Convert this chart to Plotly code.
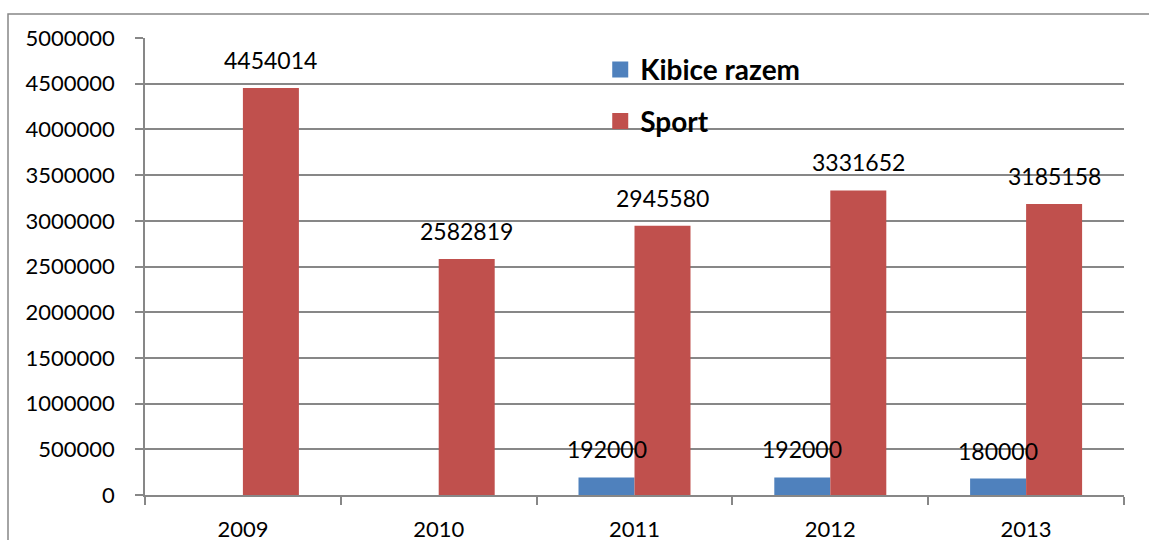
import plotly.graph_objects as go

years = ["2009", "2010", "2011", "2012", "2013"]
kibice = [None, None, 192000, 192000, 180000]
sport = [4454014, 2582819, 2945580, 3331652, 3185158]
y_ticks = list(range(0, 5000001, 500000))

BLUE = "#4F81BD"
RED = "#C0504D"
GRID = "#878787"
FONT = "Lato"
FS = 22

W, H = 1149, 540
ML, MR, MT, MB = 145, 25, 38, 45
plot_w = W - ML - MR
plot_h = H - MT - MB
bargap = 0.428
bar_px = plot_w / len(years) * (1 - bargap) / 2

fig = go.Figure()
fig.add_trace(go.Bar(x=years, y=kibice, name="Kibice razem", marker_color=BLUE,
                     marker_line_width=0, showlegend=False))
fig.add_trace(go.Bar(x=years, y=sport, name="Sport", marker_color=RED,
                     marker_line_width=0, showlegend=False))
# legend entries
fig.add_trace(go.Scatter(x=[years[0]], y=[None], mode="markers", name="Kibice razem",
                         marker=dict(symbol="square", size=16, color=BLUE, line_width=0),
                         legendgroup="a", hoverinfo="skip"))
fig.add_trace(go.Scatter(x=[years[0]], y=[None], mode="markers", name="Sport",
                         marker=dict(symbol="square", size=16, color=RED, line_width=0),
                         legendgroup="b", hoverinfo="skip"))

anns = []
for series, shift in ((kibice, -bar_px / 2), (sport, bar_px / 2)):
    for i, v in enumerate(series):
        if v is None:
            continue
        anns.append(dict(x=i, y=v, xref="x", yref="y", text=str(v), showarrow=False,
                         xshift=shift, yshift=28, yanchor="middle", xanchor="center",
                         font=dict(family=FONT, size=23, color="black")))

fig.update_layout(
    width=W, height=H,
    margin=dict(l=ML, r=MR, t=MT, b=MB, autoexpand=False),
    paper_bgcolor="white", plot_bgcolor="white",
    barmode="group", bargap=bargap, bargroupgap=0,
    font=dict(family=FONT, size=FS, color="black"),
    annotations=anns,
    legend=dict(x=0.465, y=0.985, xanchor="left", yanchor="top",
                font=dict(family=FONT, size=28, color="black", weight="bold"),
                tracegroupgap=12, bgcolor="rgba(0,0,0,0)", itemsizing="trace"),
    shapes=[dict(type="rect", xref="paper", yref="paper",
                 x0=(8 - ML) / plot_w, x1=(W + 20 - ML) / plot_w,
                 y0=-(H + 20 - MT - plot_h) / plot_h, y1=1 + (MT - 14) / plot_h,
                 line=dict(color=GRID, width=1.5), fillcolor="rgba(0,0,0,0)", layer="below")],
)
fig.update_xaxes(
    type="category", categoryorder="array", categoryarray=years,
    range=[-0.5, len(years) - 0.5], automargin=False, tickangle=0,
    showline=True, linecolor=GRID, linewidth=1.5,
    ticks="outside", tickson="boundaries", ticklen=8, tickcolor=GRID, tickwidth=1.5,
    showgrid=False, tickfont=dict(family=FONT, size=FS, color="black"),
    ticklabelstandoff=14,
)
fig.update_yaxes(
    range=[0, 5000000], tickvals=y_ticks, ticktext=[str(t) for t in y_ticks],
    automargin=False,
    showline=True, linecolor=GRID, linewidth=1.5,
    ticks="outside", ticklen=8, tickcolor=GRID, tickwidth=1.5,
    showgrid=True, gridcolor=GRID, gridwidth=1.5, zeroline=False,
    tickfont=dict(family=FONT, size=FS, color="black"),
    ticklabelstandoff=16,
)

fig.write_html("out.html", config={"displayModeBar": False},
               post_script="document.body.style.margin='0';document.body.style.overflow='hidden';")
